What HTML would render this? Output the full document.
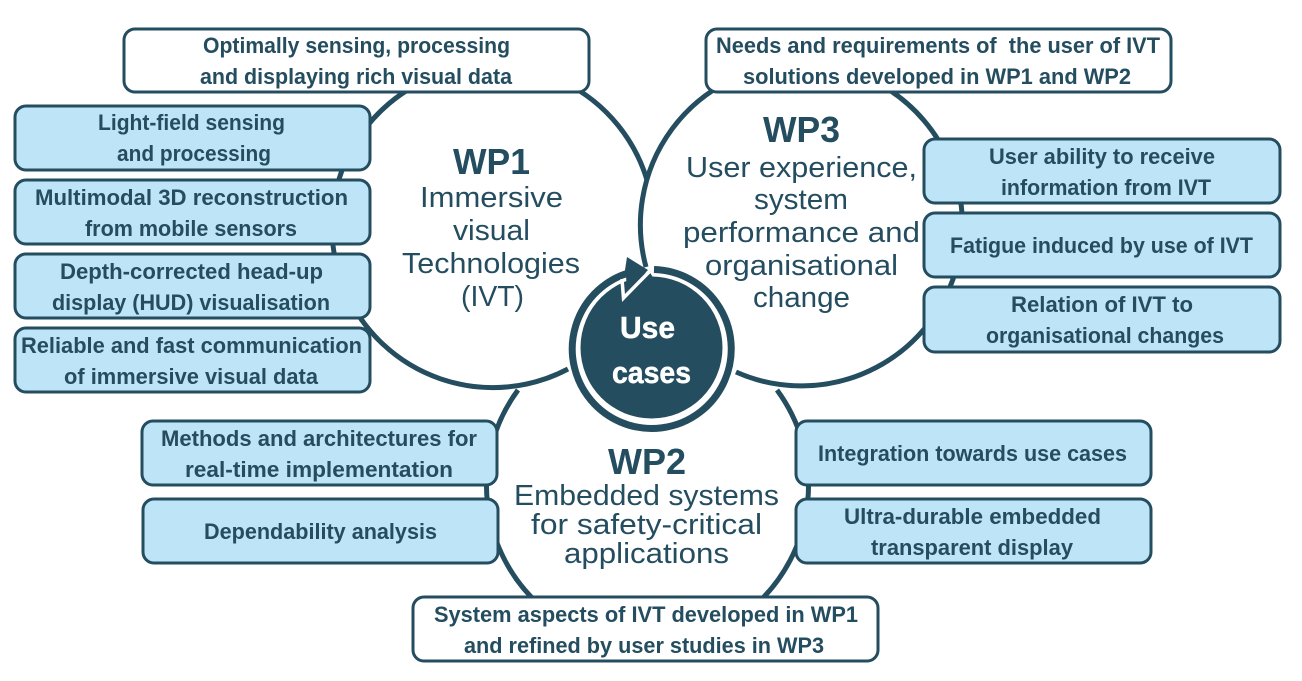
<!DOCTYPE html>
<html>
<head>
<meta charset="utf-8">
<style>
html,body{margin:0;padding:0;background:#fff;width:1302px;height:681px;overflow:hidden}
svg{display:block}
text{font-family:"Liberation Sans",sans-serif;fill:#244d5f;text-anchor:start}
.b{font-weight:bold;font-size:22px}
.h{font-weight:bold;font-size:36px}
.t{font-size:29px}
.u{font-weight:bold;font-size:31px;fill:#fff;stroke:#fff;stroke-width:.5}
rect.w{fill:#fff;stroke:#244d5f;stroke-width:3}
rect.c{fill:#bee5f7;stroke:#244d5f;stroke-width:3}
</style>
</head>
<body>
<svg width="1302" height="681" viewBox="0 0 1302 681" xmlns="http://www.w3.org/2000/svg">
<rect width="1302" height="681" fill="#fff"/>
<g fill="none" stroke="#244d5f" stroke-width="5">
<path d="M647 180 A161 161 0 1 0 568 369"/>
<path d="M646 267 A161 161 0 1 1 736 372"/>
<path d="M518 390 A161 161 0 1 0 777 390"/>
</g>

<g>
<rect class="w" x="124" y="29" width="465" height="63" rx="11"/>
<rect class="w" x="706" y="29" width="465" height="63" rx="11"/>
<rect class="w" x="413" y="597" width="465" height="64" rx="11"/>
<rect class="c" x="15" y="106" width="355" height="64" rx="11"/>
<rect class="c" x="15" y="180" width="355" height="64" rx="11"/>
<rect class="c" x="15" y="254" width="355" height="64" rx="11"/>
<rect class="c" x="15" y="328" width="355" height="64" rx="11"/>
<rect class="c" x="924" y="139" width="356" height="64" rx="11"/>
<rect class="c" x="924" y="213" width="356" height="64" rx="11"/>
<rect class="c" x="924" y="287" width="356" height="65" rx="11"/>
<rect class="c" x="142" y="421" width="355" height="64" rx="11"/>
<rect class="c" x="143" y="499" width="355" height="64" rx="11"/>
<rect class="c" x="796" y="421" width="355" height="64" rx="11"/>
<rect class="c" x="796" y="499" width="355" height="64" rx="11"/>
</g>

<g class="b" font-weight="bold">
<text class="b" x="203" y="53" textLength="307" lengthAdjust="spacingAndGlyphs">Optimally sensing, processing</text>
<text class="b" x="200" y="84" textLength="312" lengthAdjust="spacingAndGlyphs">and displaying rich visual data</text>
<text class="b" x="98" y="130" textLength="187" lengthAdjust="spacingAndGlyphs">Light-field sensing</text>
<text class="b" x="117" y="161" textLength="154" lengthAdjust="spacingAndGlyphs">and processing</text>
<text class="b" x="35" y="205" textLength="313" lengthAdjust="spacingAndGlyphs">Multimodal 3D reconstruction</text>
<text class="b" x="85" y="236" textLength="212" lengthAdjust="spacingAndGlyphs">from mobile sensors</text>
<text class="b" x="60" y="279" textLength="263" lengthAdjust="spacingAndGlyphs">Depth-corrected head-up</text>
<text class="b" x="52" y="310" textLength="278" lengthAdjust="spacingAndGlyphs">display (HUD) visualisation</text>
<text class="b" x="21" y="353" textLength="341" lengthAdjust="spacingAndGlyphs">Reliable and fast communication</text>
<text class="b" x="64" y="384" textLength="254" lengthAdjust="spacingAndGlyphs">of immersive visual data</text>
<text class="b" x="716" y="53" textLength="444" lengthAdjust="spacingAndGlyphs" xml:space="preserve">Needs and requirements of  the user of IVT</text>
<text class="b" x="743" y="84" textLength="388" lengthAdjust="spacingAndGlyphs">solutions developed in WP1 and WP2</text>
<text class="b" x="989" y="164" textLength="226" lengthAdjust="spacingAndGlyphs">User ability to receive</text>
<text class="b" x="1001" y="195" textLength="210" lengthAdjust="spacingAndGlyphs">information from IVT</text>
<text class="b" x="950" y="253" textLength="303" lengthAdjust="spacingAndGlyphs">Fatigue induced by use of IVT</text>
<text class="b" x="1011" y="312" textLength="182" lengthAdjust="spacingAndGlyphs">Relation of IVT to</text>
<text class="b" x="986" y="343" textLength="238" lengthAdjust="spacingAndGlyphs">organisational changes</text>
<text class="b" x="161" y="446" textLength="316" lengthAdjust="spacingAndGlyphs">Methods and architectures for</text>
<text class="b" x="185" y="477" textLength="268" lengthAdjust="spacingAndGlyphs">real-time implementation</text>
<text class="b" x="204" y="539" textLength="233" lengthAdjust="spacingAndGlyphs">Dependability analysis</text>
<text class="b" x="818" y="461" textLength="309" lengthAdjust="spacingAndGlyphs">Integration towards use cases</text>
<text class="b" x="844" y="524" textLength="257" lengthAdjust="spacingAndGlyphs">Ultra-durable embedded</text>
<text class="b" x="871" y="555" textLength="202" lengthAdjust="spacingAndGlyphs">transparent display</text>
<text class="b" x="434" y="622" textLength="424" lengthAdjust="spacingAndGlyphs">System aspects of IVT developed in WP1</text>
<text class="b" x="464" y="653" textLength="360" lengthAdjust="spacingAndGlyphs">and refined by user studies in WP3</text>
</g>

<text class="h" x="453" y="174" textLength="77" lengthAdjust="spacingAndGlyphs">WP1</text>
<text class="t" x="420" y="207" textLength="143" lengthAdjust="spacingAndGlyphs">Immersive</text>
<text class="t" x="453" y="240" textLength="77" lengthAdjust="spacingAndGlyphs">visual</text>
<text class="t" x="402" y="273" textLength="178" lengthAdjust="spacingAndGlyphs">Technologies</text>
<text class="t" x="461" y="306" textLength="63" lengthAdjust="spacingAndGlyphs">(IVT)</text>

<text class="h" x="763" y="142" textLength="77" lengthAdjust="spacingAndGlyphs">WP3</text>
<text class="t" x="686" y="177" textLength="231" lengthAdjust="spacingAndGlyphs">User experience,</text>
<text class="t" x="754" y="209" textLength="94" lengthAdjust="spacingAndGlyphs">system</text>
<text class="t" x="683" y="242" textLength="237" lengthAdjust="spacingAndGlyphs">performance and</text>
<text class="t" x="705" y="275" textLength="193" lengthAdjust="spacingAndGlyphs">organisational</text>
<text class="t" x="753" y="307" textLength="97" lengthAdjust="spacingAndGlyphs">change</text>

<text class="h" x="608" y="474" textLength="78" lengthAdjust="spacingAndGlyphs">WP2</text>
<text class="t" x="514" y="505" textLength="265" lengthAdjust="spacingAndGlyphs">Embedded systems</text>
<text class="t" x="531" y="534" textLength="231" lengthAdjust="spacingAndGlyphs">for safety-critical</text>
<text class="t" x="564" y="563" textLength="165" lengthAdjust="spacingAndGlyphs">applications</text>

<path d="M654 269.5 A79.5 79.5 0 1 1 630 272.5" fill="none" stroke="#244d5f" stroke-width="7"/>
<circle cx="651.5" cy="347.5" r="71" fill="#244d5f"/>
<polygon points="649,271 654,279 622,300 622,284" fill="#244d5f"/>
<polyline points="622,279 623.5,298 650,271" fill="none" stroke="#fff" stroke-width="3.5" stroke-linejoin="miter"/>
<polygon points="627,257 648,270 627,291.5 626,276 625,270" fill="#244d5f"/>
<text class="u" x="620" y="338" textLength="55" lengthAdjust="spacingAndGlyphs">Use</text>
<text class="u" x="612" y="383" textLength="79" lengthAdjust="spacingAndGlyphs">cases</text>
</svg>
</body>
</html>
